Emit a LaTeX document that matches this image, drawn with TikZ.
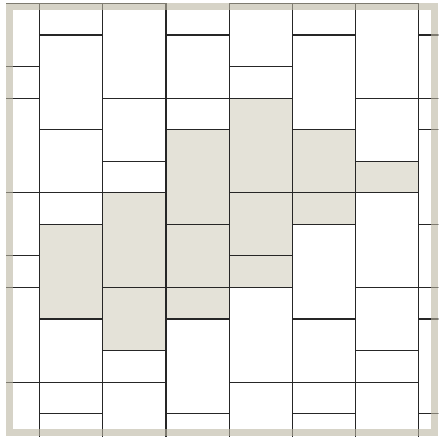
\documentclass[tikz,border=0pt]{standalone}
\usepackage{xcolor}
\usepackage{tikz}
\definecolor{tileline}{HTML}{262626}
\definecolor{tileshade}{HTML}{E4E2D8}
\definecolor{framebeige}{HTML}{BAB5A2}

\begin{document}
\begin{tikzpicture}[x=0.05cm, y=-0.05cm,
  joint/.style={tileline, line width=1.6pt},
  frame/.style={framebeige, opacity=0.6, line width=0.35cm}]

% page size of the reference
\useasboundingbox (0,0) rectangle (443,444);

% first column joint, column width, first row joint, row height
\def\xo{39.8}\def\cw{63.1}
\def\yo{3.5}\def\rh{31.55}

\begin{scope}
  \clip (6,3.3) rectangle (438.3,436);

  % shaded band of tiles
  \foreach \c/\a/\b in {1/7/10, 2/6/11, 3/4/10, 4/3/9, 5/4/7, 6/5/6}
    \fill[tileshade] ({\xo+(\c-1)*\cw},{\yo+\a*\rh}) rectangle ({\xo+\c*\cw},{\yo+\b*\rh});

  % vertical joints
  \foreach \c in {1,...,7}
    \draw[joint] ({\xo+(\c-1)*\cw},0) -- ({\xo+(\c-1)*\cw},444);

  % horizontal joints, one list per column (repeats every four columns)
  \foreach \c/\joints in {0/{0,2,3,6,8,9,12,14}, 1/{0,1,4,6,7,10,12,13},
                          2/{0,3,5,6,9,11,12},   3/{1,3,4,7,9,10,13}}{
    \foreach \s in {0,4}
      \foreach \k in \joints
        \draw[joint] ({\xo+(\c+\s-1)*\cw},{\yo+\k*\rh}) -- ({\xo+(\c+\s)*\cw},{\yo+\k*\rh});
  }
\end{scope}

% border
\draw[frame] (9.2,6.7) rectangle (434.2,432.6);

\end{tikzpicture}
\end{document}
